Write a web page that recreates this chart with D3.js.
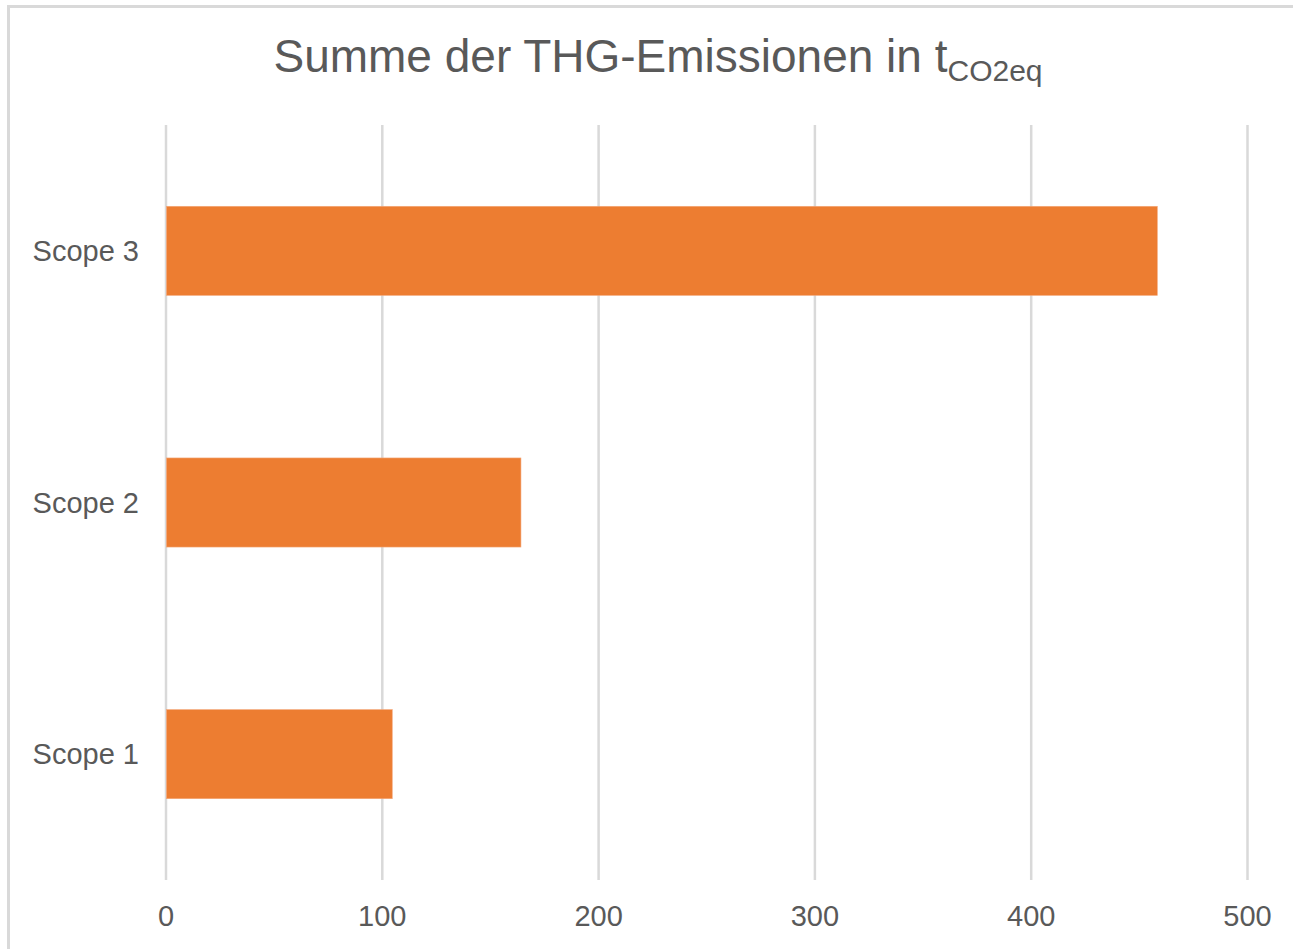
<!DOCTYPE html>
<html>
<head>
<meta charset="utf-8">
<script src="https://cdn.jsdelivr.net/npm/d3@7/dist/d3.min.js"></script>
<style>
  html, body { margin: 0; padding: 0; background: #ffffff; }
  svg { display: block; }
  text { font-family: "Liberation Sans", Arial, sans-serif; fill: #595959; }
</style>
</head>
<body>
<svg id="chart" width="1293" height="949"></svg>
<script>
const categories = ["Scope 3", "Scope 2", "Scope 1"];
const values = [458.3, 164.1, 104.6];
const xTicks = [0, 100, 200, 300, 400, 500];
const titleMain = "Summe der THG-Emissionen in t";
const titleSub = "CO2eq";

const svg = d3.select("#chart");
const W = 1293, H = 949;
const plot = { left: 166, right: 1247.5, top: 125, bottom: 880 };

// outer border (right and bottom fall outside the picture)
svg.append("rect")
  .attr("x", 8.5).attr("y", 6.5)
  .attr("width", W + 20).attr("height", H + 20)
  .attr("fill", "#ffffff")
  .attr("stroke", "#d9d9d9").attr("stroke-width", 3);

const x = d3.scaleLinear().domain([0, 500]).range([plot.left, plot.right]);
const y = d3.scaleBand().domain(categories).range([plot.top, plot.bottom])
  .paddingInner(0.646).paddingOuter(0.323);

// gridlines
svg.append("g").selectAll("line").data(xTicks).join("line")
  .attr("x1", d => x(d)).attr("x2", d => x(d))
  .attr("y1", plot.top).attr("y2", plot.bottom)
  .attr("stroke", "#d9d9d9").attr("stroke-width", 2.5);

// bars
svg.append("g").selectAll("rect").data(categories).join("rect")
  .attr("x", x(0) + 0.5)
  .attr("y", d => y(d))
  .attr("width", (d, i) => x(values[i]) - x(0) - 0.5)
  .attr("height", y.bandwidth())
  .attr("fill", "#ED7D31")
  .attr("stroke", "#f4a77a").attr("stroke-width", 0.6);

// x tick labels
svg.append("g").selectAll("text").data(xTicks).join("text")
  .attr("x", d => x(d)).attr("y", 926)
  .attr("text-anchor", "middle")
  .attr("font-size", 29)
  .text(d => d);

// y category labels
svg.append("g").selectAll("text").data(categories).join("text")
  .attr("x", 139)
  .attr("y", d => y(d) + y.bandwidth() / 2 + 10)
  .attr("text-anchor", "end")
  .attr("font-size", 29)
  .text(d => d);

// title
const title = svg.append("text")
  .attr("x", 658).attr("y", 72)
  .attr("text-anchor", "middle")
  .attr("font-size", 46);
title.append("tspan").text(titleMain);
title.append("tspan").attr("font-size", 30).attr("dy", 9).text(titleSub);
</script>
</body>
</html>
